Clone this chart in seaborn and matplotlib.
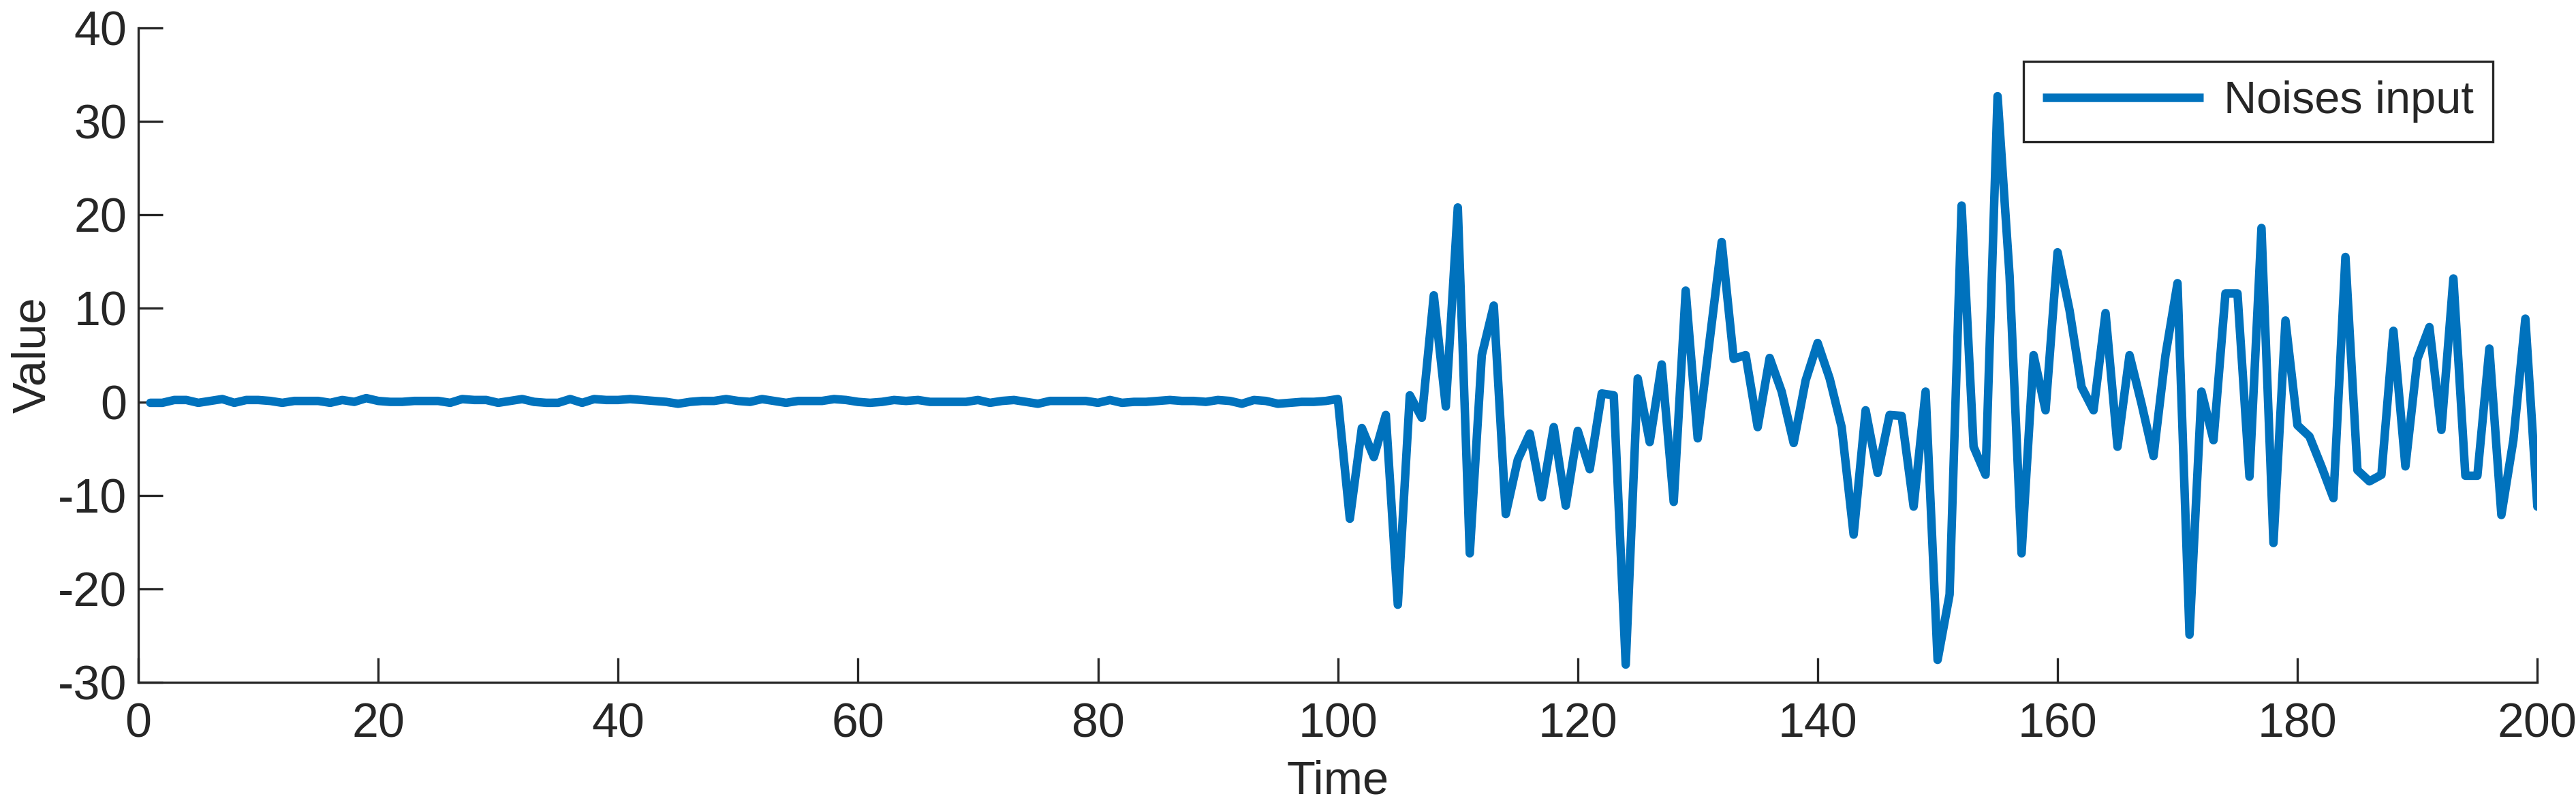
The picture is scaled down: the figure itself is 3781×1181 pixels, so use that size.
import numpy as np
import pandas as pd
import matplotlib
matplotlib.use("Agg")
import matplotlib.pyplot as plt
import seaborn as sns

# time steps 1..200
time_steps = list(range(1, 201))

# quiet part (t = 1..100), small wiggles around zero
quiet_values = [
    -0.1, -0.1, 0.2, 0.2, -0.1, 0.1, 0.3, -0.1, 0.2, 0.2,
    0.1, -0.1, 0.1, 0.1, 0.1, -0.1, 0.2, 0.0, 0.4, 0.1,
    0.0, 0.0, 0.1, 0.1, 0.1, -0.1, 0.3, 0.2, 0.2, -0.1,
    0.1, 0.3, 0.0, -0.1, -0.1, 0.3, -0.1, 0.3, 0.2, 0.2,
    0.3, 0.2, 0.1, 0.0, -0.2, 0.0, 0.1, 0.1, 0.3, 0.1,
    0.0, 0.3, 0.1, -0.1, 0.1, 0.1, 0.1, 0.3, 0.2, 0.0,
    -0.1, 0.0, 0.2, 0.1, 0.2, 0.0, 0.0, 0.0, 0.0, 0.2,
    -0.1, 0.1, 0.2, 0.0, -0.2, 0.1, 0.1, 0.1, 0.1, -0.1,
    0.2, -0.1, 0.0, 0.0, 0.1, 0.2, 0.1, 0.1, 0.0, 0.2,
    0.1, -0.2, 0.2, 0.1, -0.2, -0.1, 0.0, 0.0, 0.1, 0.3,
]

# noisy part (t = 101..200)
noisy_values = [
    -12.5, -2.8, -5.9, -1.4, -21.7, 0.7, -1.7, 11.4, -0.5, 20.8,
    -16.2, 5.0, 10.3, -12.0, -6.2, -3.4, -10.2, -2.7, -11.1, -3.1,
    -7.2, 0.9, 0.7, -28.1, 2.5, -4.3, 4.0, -10.7, 11.9, -3.9,
    6.6, 17.1, 4.6, 5.0, -2.7, 4.7, 1.1, -4.4, 2.3, 6.3,
    2.5, -2.7, -14.2, -0.9, -7.6, -1.4, -1.5, -11.2, 1.1, -27.6,
    -20.6, 21.0, -4.8, -7.8, 32.7, 13.5, -16.2, 5.0, -0.9, 16.0,
    9.8, 1.6, -0.9, 9.5, -4.8, 5.0, -0.2, -5.8, 5.0, 12.7,
    -24.9, 1.1, -4.1, 11.6, 11.6, -8.0, 18.6, -15.1, 8.7, -2.5,
    -3.7, -6.9, -10.3, 15.5, -7.3, -8.5, -7.8, 7.6, -6.9, 4.6,
    8.0, -3.0, 13.2, -7.9, -7.9, 5.7, -12.1, -4.1, 8.9, -11.2,
]

x_ticks = list(range(0, 201, 20))
y_ticks = list(range(-30, 41, 10))

df = pd.DataFrame({"Time": time_steps, "Value": quiet_values + noisy_values})

sns.set_theme(style="ticks")
plt.rcParams["font.family"] = ["Liberation Sans", "DejaVu Sans"]
plt.rcParams["axes.unicode_minus"] = False

fig = plt.figure(figsize=(3781 / 300, 1181 / 300), dpi=300)
ax = fig.add_axes([0.0537, 0.1524, 0.9313, 0.8129])

sns.lineplot(data=df, x="Time", y="Value", color="#0072BD", linewidth=3.0,
             label="Noises input", ax=ax)

ax.set_xlim(0, 200)
ax.set_ylim(-30, 40)
ax.set_xticks(x_ticks)
ax.set_yticks(y_ticks)
ax.tick_params(direction="in", length=8.6, width=0.8, color="#262626",
               labelsize=16.8, labelcolor="#262626")
ax.tick_params(axis="x", pad=7)
ax.tick_params(axis="y", pad=4)
for side in ["top", "right"]:
    ax.spines[side].set_visible(False)
for side in ["left", "bottom"]:
    ax.spines[side].set_linewidth(0.8)
    ax.spines[side].set_color("#262626")

ax.set_xlabel("Time", fontsize=16.5, color="#262626")
ax.set_ylabel("Value", fontsize=16.5, color="#262626")
ax.xaxis.set_label_coords(0.5, -0.118)
ax.yaxis.set_label_coords(-0.035, 0.5)

leg = ax.legend(loc="upper right", bbox_to_anchor=(0.9815, 0.949),
                borderaxespad=0, fontsize=16, handlelength=3.55,
                fancybox=False, framealpha=1, edgecolor="#262626",
                borderpad=0.42, handletextpad=0.45)
leg.get_frame().set_linewidth(0.8)
for line in leg.get_lines():
    line.set_solid_capstyle("butt")

fig.savefig("out.png", dpi=300)
